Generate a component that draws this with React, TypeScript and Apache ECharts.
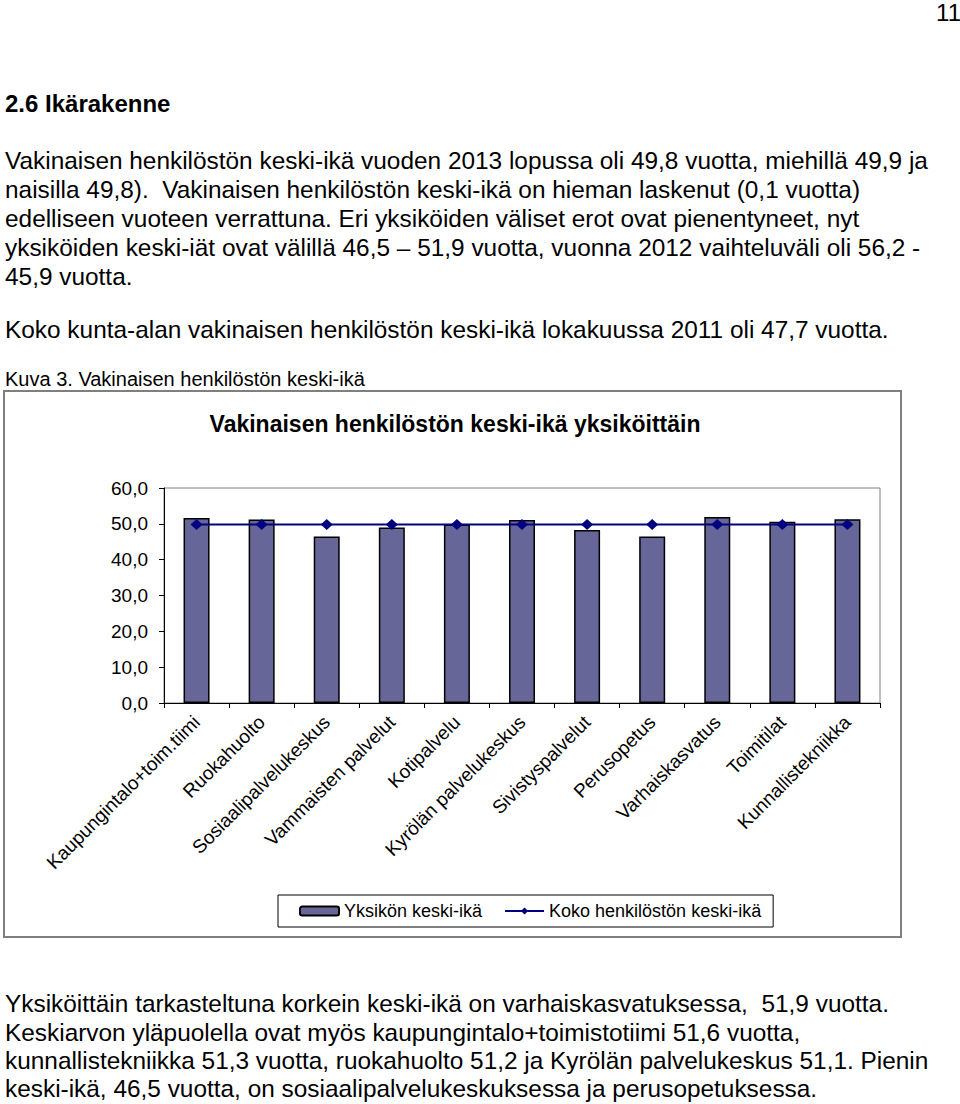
import React, { useEffect, useRef } from "react";
import * as echarts from "echarts";

const categories = [
  "Kaupungintalo+toim.tiimi",
  "Ruokahuolto",
  "Sosiaalipalvelukeskus",
  "Vammaisten palvelut",
  "Kotipalvelu",
  "Kyrölän palvelukeskus",
  "Sivistyspalvelut",
  "Perusopetus",
  "Varhaiskasvatus",
  "Toimitilat",
  "Kunnallistekniikka",
];
const unitAge = [51.6, 51.2, 46.5, 49.0, 49.8, 51.1, 48.3, 46.5, 51.9, 50.6, 51.3];
const totalAge = [49.8, 49.8, 49.8, 49.8, 49.8, 49.8, 49.8, 49.8, 49.8, 49.8, 49.8];
const seriesNames = ["Yksikön keski-ikä", "Koko henkilöstön keski-ikä"];
const chartTitle = "Vakinaisen henkilöstön keski-ikä yksiköittäin";

const pageNumber = "11";
const heading = "2.6 Ikärakenne";
const para1 = [
  "Vakinaisen henkilöstön keski-ikä vuoden 2013 lopussa oli 49,8 vuotta, miehillä 49,9 ja",
  "naisilla 49,8).  Vakinaisen henkilöstön keski-ikä on hieman laskenut (0,1 vuotta)",
  "edelliseen vuoteen verrattuna. Eri yksiköiden väliset erot ovat pienentyneet, nyt",
  "yksiköiden keski-iät ovat välillä 46,5 – 51,9 vuotta, vuonna 2012 vaihteluväli oli 56,2 -",
  "45,9 vuotta.",
];
const para2 = "Koko kunta-alan vakinaisen henkilöstön keski-ikä lokakuussa 2011 oli 47,7 vuotta.";
const caption = "Kuva 3. Vakinaisen henkilöstön keski-ikä";
const para3 = [
  "Yksiköittäin tarkasteltuna korkein keski-ikä on varhaiskasvatuksessa,  51,9 vuotta.",
  "Keskiarvon yläpuolella ovat myös kaupungintalo+toimistotiimi 51,6 vuotta,",
  "kunnallistekniikka 51,3 vuotta, ruokahuolto 51,2 ja Kyrölän palvelukeskus 51,1. Pienin",
  "keski-ikä, 46,5 vuotta, on sosiaalipalvelukeskuksessa ja perusopetuksessa.",
];

const FONT = "'Liberation Sans', Arial, Helvetica, sans-serif";

function txt(text: string, x: number, y: number, size: number, opts: any = {}) {
  return {
    type: "text",
    silent: true,
    style: {
      text,
      x,
      y,
      fontSize: size,
      fontFamily: FONT,
      fontWeight: opts.bold ? "bold" : "normal",
      fill: "#000",
      align: opts.align || "left",
      verticalAlign: "middle",
    },
  };
}

export default function App() {
  const ref = useRef<HTMLDivElement>(null);
  useEffect(() => {
    if (!ref.current) return;
    const chart = echarts.init(ref.current, null, { renderer: "svg" });
    const graphics: any[] = [];
    graphics.push(txt(pageNumber, 961, 12, 24, { align: "right" }));
    graphics.push(txt(heading, 5, 103, 24, { bold: true }));
    const p1y = [160, 189, 218, 247, 276];
    para1.forEach((l, i) => graphics.push(txt(l, 5, p1y[i], 24.4)));
    graphics.push(txt(para2, 5, 329, 24.4));
    graphics.push(txt(caption, 5, 379, 20));
    const p3y = [1003, 1032, 1060, 1088];
    para3.forEach((l, i) => graphics.push(txt(l, 5, p3y[i], 24.4)));
    graphics.push({
      type: "rect",
      silent: true,
      shape: { x: 4, y: 391, width: 897, height: 546 },
      style: { fill: "none", stroke: "#7f7f7f", lineWidth: 2 },
    });
    graphics.push(txt(chartTitle, 455, 424, 23, { bold: true, align: "center" }));

    chart.setOption({
      animation: false,
      textStyle: { fontFamily: FONT },
      graphic: graphics,
      grid: {
        left: 164,
        right: 80,
        top: 488,
        bottom: 401,
        show: true,
        borderColor: "#808080",
        borderWidth: 1,
        backgroundColor: "transparent",
      },
      legend: {
        left: 278,
        top: 895,
        orient: "horizontal",
        itemWidth: 39,
        itemHeight: 9,
        itemGap: 22,
        padding: [7, 12, 7, 21],
        borderColor: "#000",
        borderWidth: 1,
        textStyle: { fontSize: 18, color: "#000", fontFamily: FONT },
        data: seriesNames,
      },
      xAxis: {
        type: "category",
        data: categories,
        axisLine: { lineStyle: { color: "#000", width: 1 } },
        axisTick: { show: true, length: 5, lineStyle: { color: "#000" } },
        axisLabel: {
          interval: 0,
          rotate: 45,
          fontSize: 19,
          color: "#000",
          margin: 16,
          fontFamily: FONT,
        },
      },
      yAxis: {
        type: "value",
        min: 0,
        max: 60,
        interval: 10,
        axisLine: { show: true, lineStyle: { color: "#000", width: 1 } },
        axisTick: { show: true, length: 5, lineStyle: { color: "#000" } },
        splitLine: { show: false },
        axisLabel: {
          fontSize: 19,
          color: "#000",
          margin: 16,
          fontFamily: FONT,
          formatter: (v: number) => v.toFixed(1).replace(".", ","),
        },
      },
      series: [
        {
          name: seriesNames[0],
          type: "bar",
          data: unitAge,
          barWidth: 26,
          itemStyle: { color: "#666699", borderColor: "#000", borderWidth: 1.5 },
        },
        {
          name: seriesNames[1],
          type: "line",
          data: totalAge,
          symbol: "diamond",
          symbolSize: [12, 11],
          lineStyle: { color: "#000080", width: 2 },
          itemStyle: { color: "#000080" },
        },
      ],
    });
    return () => chart.dispose();
  }, []);
  return (
    <div
      ref={ref}
      style={{ position: "absolute", left: 0, top: 0, width: 960, height: 1104, background: "#fff" }}
    />
  );
}
